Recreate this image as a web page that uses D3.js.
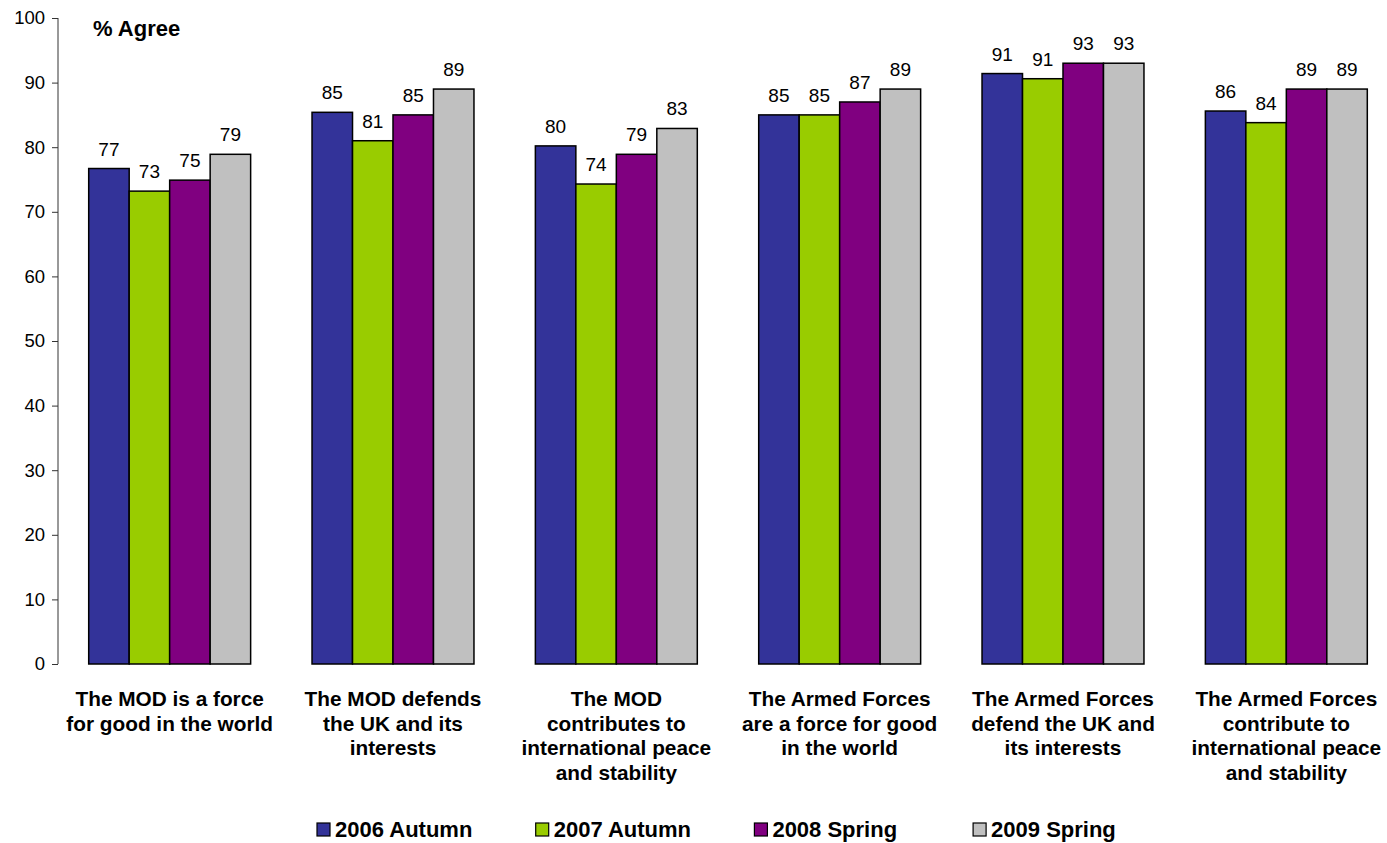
<!DOCTYPE html>
<html><head><meta charset="utf-8">
<script src="https://cdn.jsdelivr.net/npm/d3@7"></script>
<style>body{margin:0;background:#fff;} svg{display:block;font-family:"Liberation Sans",Arial,sans-serif;}</style>
</head><body>
<script>
const categories = [
  ["The MOD is a force","for good in the world"],
  ["The MOD defends","the UK and its","interests"],
  ["The MOD","contributes to","international peace","and stability"],
  ["The Armed Forces","are a force for good","in the world"],
  ["The Armed Forces","defend the UK and","its interests"],
  ["The Armed Forces","contribute to","international peace","and stability"]
];
const series = ["2006 Autumn","2007 Autumn","2008 Spring","2009 Spring"];
const colors = ["#333399","#99CC00","#800080","#C0C0C0"];
const s2006 = [76.7, 85.4, 80.2, 85.0, 91.4, 85.6];
const s2007 = [73.2, 81.0, 74.3, 85.0, 90.6, 83.8];
const s2008 = [74.9, 85.0, 78.9, 87.0, 93.0, 89.0];
const s2009 = [78.9, 89.0, 82.9, 89.0, 93.0, 89.0];
const yTicks = [0,10,20,30,40,50,60,70,80,90,100];
const values = [s2006, s2007, s2008, s2009];

const W = 1387, H = 843;
const svg = d3.select("body").append("svg").attr("width", W).attr("height", H);

const y = d3.scaleLinear().domain([0,100]).range([664, 18]);
const x0 = d3.scaleBand().domain(d3.range(categories.length)).range([58, 1398]);
const gap = 30.7;
const x1 = d3.scaleBand().domain(d3.range(series.length)).range([gap, x0.bandwidth() - gap]);

// y axis
const yAxis = d3.axisLeft(y).tickValues(yTicks).tickSize(6).tickPadding(7);
const ga = svg.append("g").attr("transform","translate(58,0)").call(yAxis);
ga.select(".domain").attr("stroke","#333").attr("d","M0,18V664");
ga.selectAll(".tick line").attr("stroke","#333");
ga.selectAll(".tick text").attr("font-size",18.5).attr("fill","#000")
  .attr("font-family","Liberation Sans, Arial, sans-serif");

// bars
categories.forEach((c, i) => {
  const g = svg.append("g").attr("transform", `translate(${x0(i)},0)`);
  series.forEach((s, j) => {
    const v = values[j][i];
    g.append("rect").attr("x", x1(j)).attr("y", y(v))
      .attr("width", x1.bandwidth()).attr("height", y(0) - y(v))
      .attr("fill", colors[j]).attr("stroke","#000").attr("stroke-width",1.5);
    g.append("text").attr("x", x1(j) + x1.bandwidth()/2).attr("y", y(v) - 13)
      .attr("text-anchor","middle").attr("font-size",19).attr("fill","#000")
      .text(Math.round(v));
  });
  const t = g.append("text").attr("text-anchor","middle").attr("font-size",20.8)
    .attr("font-weight","bold").attr("fill","#000");
  c.forEach((line, k) => {
    t.append("tspan").attr("x", x0.bandwidth()/2).attr("y", 706 + k*24.6).text(line);
  });
});

// title
svg.append("text").attr("x",93).attr("y",36).attr("font-size",22)
  .attr("font-weight","bold").text("% Agree");

// legend
const lg = svg.append("g");
series.forEach((s, j) => {
  const lx = 317 + j*218.7;
  lg.append("rect").attr("x", lx).attr("y", 823).attr("width", 13).attr("height", 13)
    .attr("fill", colors[j]).attr("stroke","#000").attr("stroke-width",1.2);
  lg.append("text").attr("x", lx + 18).attr("y", 837).attr("font-size",22)
    .attr("font-weight","bold").text(s);
});
</script>
</body></html>
